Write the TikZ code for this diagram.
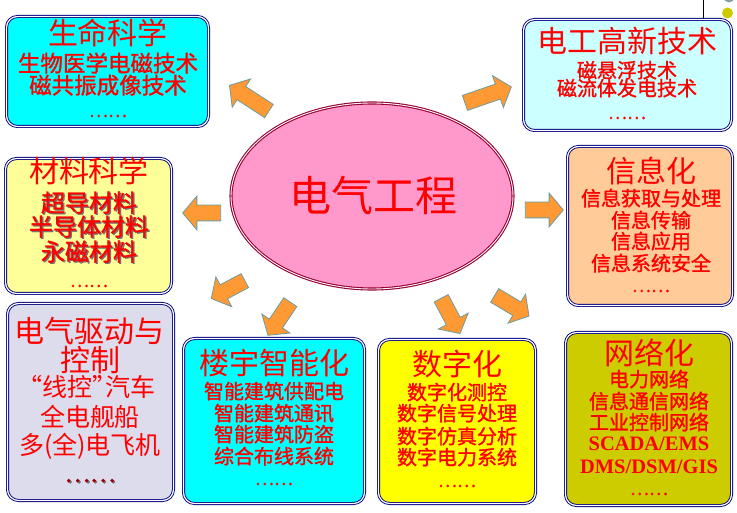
\documentclass[tikz,border=0pt]{standalone}
\usepackage{fontspec}
\setmainfont{Liberation Serif}
\newfontfamily\cjk{Noto Sans CJK SC}
\newfontfamily\cjkb[FakeBold=1.3]{Noto Sans CJK SC}
\usetikzlibrary{shapes.geometric,shapes.arrows}
\definecolor{navyb}{HTML}{000080}
\definecolor{cyanbox}{HTML}{00FFFF}
\definecolor{lcyanbox}{HTML}{CCFFFF}
\definecolor{lyellowbox}{HTML}{FFFF99}
\definecolor{peachbox}{HTML}{FFCC99}
\definecolor{lavbox}{HTML}{DCDCEC}
\definecolor{yellowbox}{HTML}{FFFF00}
\definecolor{olivebox}{HTML}{CCCC00}
\definecolor{ellfill}{HTML}{FF99CC}
\definecolor{elledge}{HTML}{990033}
\definecolor{arrorange}{HTML}{FF9933}
\definecolor{arredge}{HTML}{6E9C9C}
\definecolor{dotgray}{HTML}{7FA3A3}
\definecolor{dotolive}{HTML}{CCCC00}
\definecolor{darkdots}{HTML}{990000}
\newcommand\shtext[1]{\makebox[0pt][l]{\hspace{1.4pt}\raisebox{-1.2pt}{\textcolor{black!55}{#1}}}#1}
\begin{document}
\begin{tikzpicture}[x=1pt,y=-1pt,
  box/.style={draw=navyb, line width=0.9pt, double=white, double distance=1.2pt,
    rounded corners=11pt, inner sep=0pt},
  ttl/.style={text=red, font=\cjk\fontsize{30}{32}\selectfont, inner sep=0pt,
    text height=22pt, text depth=2pt},
  sub/.style={text=red, font=\cjkb\fontsize{20}{22}\selectfont, inner sep=0pt,
    text height=15pt, text depth=1.5pt},
  subbig/.style={sub, font=\cjkb\fontsize{22.5}{24}\selectfont},
  subsh/.style={sub, font=\cjkb\fontsize{24}{26}\selectfont},
  subreg/.style={sub, font=\cjk\fontsize{25}{27}\selectfont},
  lat/.style={sub, font=\bfseries\fontsize{20.5}{22}\selectfont},
  dots/.style={text=red, font=\cjkb\fontsize{18}{20}\selectfont, inner sep=0pt,
    text height=8pt, text depth=0pt},
  blockarr/.style={single arrow, draw=arredge, fill=arrorange, line width=0.8pt,
    inner xsep=0pt, inner ysep=7.5pt, single arrow head extend=9pt,
    single arrow tip angle=100, minimum width=0pt}
]
\useasboundingbox (0,0) rectangle (737,513);

% top-right decoration
\fill[dotgray] (729,-3) circle (5.5pt);
\fill[dotolive] (727.5,13) circle (5.5pt);
\coordinate (lt) at (703,0);

% boxes
\node[box, fill=cyanbox, minimum width=202pt, minimum height=110pt] (b1) at (107.5,71.5) {};
\node[box, fill=lcyanbox, minimum width=208pt, minimum height=111pt] (b2) at (627.5,75) {};
\node[box, fill=lyellowbox, minimum width=166pt, minimum height=135pt] (b3) at (88.5,226) {};
\node[box, fill=peachbox, minimum width=165pt, minimum height=159pt] (b4) at (650,226) {};
\node[box, fill=lavbox, minimum width=166pt, minimum height=197pt] (b5) at (90.5,402) {};
\node[box, fill=cyanbox, minimum width=181pt, minimum height=165pt] (b6) at (274,421) {};
\node[box, fill=yellowbox, minimum width=157pt, minimum height=164pt] (b7) at (457,421.5) {};
\node[box, fill=olivebox, minimum width=166pt, minimum height=173pt] (b8) at (648.5,419) {};

\draw[line width=0.8pt] (lt) -- (lt |- b2.north);

% central ellipse
\node[ellipse, draw=elledge, line width=1.1pt, double=white, double distance=0.9pt,
  fill=ellfill, minimum width=282pt, minimum height=186pt, inner sep=0pt] (ee) at (372,196) {};
\node[text=red, font=\cjk\fontsize{42}{44}\selectfont, inner sep=0pt] (eet) at (373,195) {电气工程};

% arrows
\node[blockarr, rotate=147, minimum height=47pt] (a1) at (252,100) {};
\node[blockarr, rotate=19, minimum height=49pt] (a2) at (485,96) {};
\node[blockarr, rotate=180, minimum height=38pt] (a3) at (205,213) {};
\node[blockarr, rotate=0, minimum height=38pt] (a4) at (541,210) {};
\node[blockarr, rotate=208, minimum height=38pt] (a5) at (231,288) {};
\node[blockarr, rotate=236, minimum height=40pt] (a6) at (281,316) {};
\node[blockarr, rotate=-62, minimum height=40pt] (a7) at (449,313) {};
\node[blockarr, rotate=-31, minimum height=40pt] (a8) at (509,304) {};

% box 1
\node[ttl] (t1) at (108,35) {生命科学};
\node[subbig] (t1a) at (108,65) {生物医学电磁技术};
\node[subbig] (t1b) at (108,87) {磁共振成像技术};
\node[dots] (t1c) at (108,113) {……};

% box 2
\node[ttl] (t2) at (627,43) {电工高新技术};
\node[sub] (t2a) at (627,71) {磁悬浮技术};
\node[sub] (t2b) at (627,89) {磁流体发电技术};
\node[dots] (t2c) at (627,115) {……};

% box 3
\node[ttl] (t3) at (89,173) {材料科学};
\node[subsh] (t3a) at (89,205) {\shtext{超导材料}};
\node[subsh] (t3b) at (89,229) {\shtext{半导体材料}};
\node[subsh] (t3c) at (89,254) {\shtext{永磁材料}};
\node[dots] (t3d) at (89,283) {……};

% box 4
\node[ttl] (t4) at (651,173) {信息化};
\node[sub] (t4a) at (651,199) {信息获取与处理};
\node[sub] (t4b) at (651,221) {信息传输};
\node[sub] (t4c) at (651,242) {信息应用};
\node[sub] (t4d) at (651,264) {信息系统安全};
\node[dots] (t4e) at (651,288) {……};

% box 5
\node[ttl] (t5) at (90,332) {电气驱动与};
\node[ttl] (t5a) at (90,361) {控制};
\node[subreg] (t5b) at (92,390) {\makebox[0.55em][r]{“}线控\makebox[0.55em][l]{”}汽车};
\node[subreg] (t5c) at (90,420) {全电舰船};
\node[subreg] (t5d) at (90,448) {多(全)电飞机};
\node[dots, text=darkdots, font=\cjkb\fontsize{24}{26}\selectfont] (t5e) at (90,478) {\shtext{……}};

% box 6
\node[ttl] (t6) at (274,364) {楼宇智能化};
\node[sub] (t6a) at (274,392) {智能建筑供配电};
\node[sub] (t6b) at (274,414) {智能建筑通讯};
\node[sub] (t6c) at (274,435) {智能建筑防盗};
\node[sub] (t6d) at (274,457) {综合布线系统};
\node[dots] (t6e) at (274,481) {……};

% box 7
\node[ttl] (t7) at (457,366) {数字化};
\node[sub] (t7a) at (457,393) {数字化测控};
\node[sub] (t7b) at (457,414) {数字信号处理};
\node[sub] (t7c) at (457,437) {数字仿真分析};
\node[sub] (t7d) at (457,458) {数字电力系统};
\node[dots] (t7e) at (457,483) {……};

% box 8
\node[ttl] (t8) at (649,354) {网络化};
\node[sub] (t8a) at (649,380) {电力网络};
\node[sub] (t8b) at (649,402) {信息通信网络};
\node[sub] (t8c) at (649,423) {工业控制网络};
\node[lat] (t8d) at (649,444) {SCADA/EMS};
\node[lat] (t8e) at (649,467) {DMS/DSM/GIS};
\node[dots] (t8f) at (649,491) {……};
\end{tikzpicture}
\end{document}
